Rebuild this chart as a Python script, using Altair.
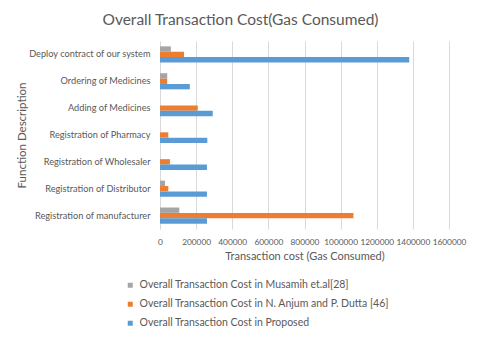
import altair as alt
import pandas as pd

categories = [
    "Deploy contract of our system",
    "Ordering of Medicines",
    "Adding of Medicines ",
    "Registration of Pharmacy",
    "Registration of Wholesaler",
    "Registration of Distributor",
    "Registration of manufacturer",
]
series = [
    "Overall Transaction Cost in Musamih et.al[28]",
    "Overall Transaction Cost in N. Anjum and P. Dutta [46]",
    "Overall Transaction Cost in Proposed",
]
musamih = [60000, 40000, 0, 0, 0, 28000, 107000]
anjum = [133000, 40000, 209000, 46000, 55000, 46000, 1071000]
proposed = [1380000, 165000, 292000, 262000, 260000, 260000, 260000]
x_ticks = [0, 200000, 400000, 600000, 800000, 1000000, 1200000, 1400000, 1600000]
colors = ["#A5A5A5", "#ED7D31", "#5B9BD5"]

rows = []
for s, vals in zip(series, [musamih, anjum, proposed]):
    for c, v in zip(categories, vals):
        rows.append({"Function": c, "Series": s, "Cost": v})
df = pd.DataFrame(rows)

FONT = "Lato"
TXT = "#595959"

chart = (
    alt.Chart(df)
    .mark_bar()
    .encode(
        x=alt.X(
            "Cost:Q",
            scale=alt.Scale(domain=[0, 1600000], nice=False),
            axis=alt.Axis(
                values=x_ticks,
                format="d",
                title="Transaction cost (Gas Consumed)",
                domain=False,
                ticks=False,
                grid=True,
                gridColor="#D9D9D9",
                labelOverlap=False,
                labelBound=False,
                labelFlush=False,
                labelPadding=8,
                labelFontSize=8.3,
                labelColor=TXT,
                labelFont=FONT,
                titleFont=FONT,
                titleFontSize=11,
                titleFontWeight="normal",
                titleColor=TXT,
                titlePadding=5,
            ),
        ),
        y=alt.Y(
            "Function:N",
            sort=categories,
            scale=alt.Scale(paddingInner=0.4, paddingOuter=0.2),
            axis=alt.Axis(
                title="Function Description",
                domain=True,
                domainColor="#D9D9D9",
                ticks=False,
                labelPadding=10,
                labelFontSize=9.2,
                labelColor=TXT,
                labelFont=FONT,
                labelLimit=300,
                titleFont=FONT,
                titleFontSize=11.5,
                titleFontWeight="normal",
                titleColor=TXT,
                titleAngle=-90,
                titleX=-138,
                titleY=94,
                titleBaseline="middle",
                titleAlign="center",
            ),
        ),
        yOffset=alt.YOffset(
            "Series:N",
            sort=series,
            scale=alt.Scale(paddingInner=0, paddingOuter=0),
        ),
        color=alt.Color(
            "Series:N",
            sort=series,
            scale=alt.Scale(domain=series, range=colors),
            legend=alt.Legend(
                title=None,
                orient="none",
                legendX=-35,
                legendY=239,
                direction="vertical",
                symbolType="square",
                symbolSize=25,
                symbolStrokeWidth=0,
                labelFont=FONT,
                labelFontSize=10.5,
                labelColor=TXT,
                labelLimit=400,
                rowPadding=8,
                labelOffset=4,
            ),
        ),
    )
    .properties(
        width=289,
        height=188,
        padding={"left": 152, "top": 33, "right": 23, "bottom": 101},
        autosize=alt.AutoSizeParams(type="none"),
        title=alt.TitleParams(
            "Overall Transaction Cost(Gas Consumed)",
            font=FONT,
            fontSize=15.5,
            fontWeight="normal",
            color=TXT,
            anchor="middle",
            dx=-64,
            offset=13,
        ),
    )
    .configure_view(stroke=None)
)

chart.save("out.html", embed_options={"renderer": "svg", "actions": False})
